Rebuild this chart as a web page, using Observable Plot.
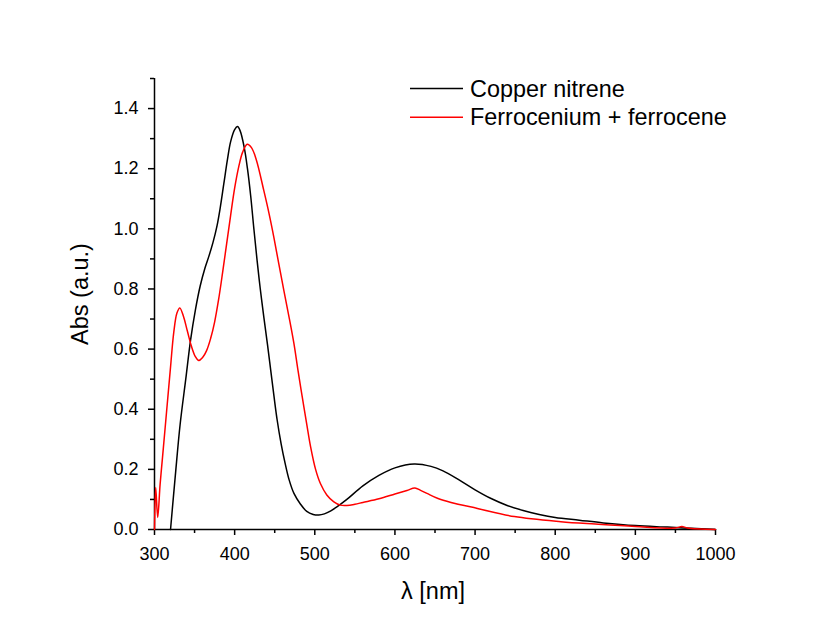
<!DOCTYPE html>
<html>
<head>
<meta charset="utf-8">
<script src="https://cdn.jsdelivr.net/npm/d3@7"></script>
<script src="https://cdn.jsdelivr.net/npm/@observablehq/plot@0.6"></script>
<style>
  html, body { margin: 0; padding: 0; background: #ffffff; }
  #chart { position: relative; width: 816px; height: 626px; }
  svg { font-family: Arial, "Liberation Sans", sans-serif; }
</style>
</head>
<body>
<div id="chart"></div>
<script>
// Copper nitrene (black)
const copperWl  = [320, 326, 332, 339, 345, 351, 357, 363, 368, 373, 378, 382, 386.5, 391, 395, 400, 403.6, 407, 412, 416, 420, 424, 428, 432, 436.5, 441, 445, 449, 453, 458, 463, 468, 474, 482, 490, 498, 505, 512, 520, 528, 540, 560, 580, 600, 624, 645, 660, 680, 700, 720, 740, 760, 780, 800, 830, 860, 900, 940, 970, 1000];
const copperAbs = [0.0, 0.18, 0.35, 0.5, 0.63, 0.73, 0.81, 0.87, 0.91, 0.955, 1.01, 1.07, 1.15, 1.23, 1.29, 1.33, 1.34, 1.325, 1.27, 1.2, 1.11, 1.0, 0.895, 0.8, 0.705, 0.615, 0.53, 0.445, 0.365, 0.285, 0.22, 0.165, 0.12, 0.085, 0.06, 0.05, 0.048, 0.052, 0.062, 0.076, 0.1, 0.145, 0.18, 0.205, 0.218, 0.21, 0.195, 0.165, 0.132, 0.103, 0.08, 0.063, 0.05, 0.04, 0.031, 0.022, 0.013, 0.008, 0.004, 0.0];

// Ferrocenium + ferrocene (red)
const ferroWl  = [300, 301.5, 304, 307, 310, 315, 320, 324, 328, 331.6, 336, 341, 346, 351, 355.3, 360, 365, 370, 375, 380, 385, 390, 395, 400, 405, 410, 415.7, 421, 427, 436.5, 443, 449, 455, 461.5, 468, 474, 479, 484.4, 490, 494.8, 501, 507, 515, 523.8, 532, 540, 550, 560, 580, 600, 615, 625, 632, 640, 653, 670, 703, 749, 807, 850, 900, 950, 958, 965, 1000];
const ferroAbs = [0.0, 0.14, 0.04, 0.15, 0.24, 0.39, 0.54, 0.655, 0.72, 0.737, 0.71, 0.66, 0.61, 0.575, 0.562, 0.572, 0.595, 0.635, 0.69, 0.765, 0.855, 0.95, 1.045, 1.135, 1.205, 1.255, 1.281, 1.27, 1.23, 1.126, 1.05, 0.971, 0.885, 0.794, 0.705, 0.618, 0.53, 0.44, 0.35, 0.275, 0.2, 0.153, 0.115, 0.092, 0.081, 0.08, 0.084, 0.09, 0.102, 0.118, 0.13, 0.138, 0.13, 0.12, 0.104, 0.09, 0.07, 0.043, 0.026, 0.018, 0.01, 0.005, 0.01, 0.005, 0.0];

const xMajor = [300, 400, 500, 600, 700, 800, 900, 1000];
const xMinor = [350, 450, 550, 650, 750, 850, 950];
const yMajor = [0, 0.2, 0.4, 0.6, 0.8, 1.0, 1.2, 1.4];
const yMinor = [0.1, 0.3, 0.5, 0.7, 0.9, 1.1, 1.3, 1.5];

const seriesNames = ["Copper nitrene", "Ferrocenium + ferrocene"];
const seriesColors = ["#000000", "#ff0000"];

const copper = copperWl.map((w, i) => ({wl: w, abs: copperAbs[i]}));
const ferro = ferroWl.map((w, i) => ({wl: w, abs: ferroAbs[i]}));

const plot = Plot.plot({
  width: 816,
  height: 626,
  marginLeft: 154,
  marginRight: 101,
  marginTop: 78,
  marginBottom: 97,
  style: {background: "#ffffff", fontFamily: "Arial, 'Liberation Sans', sans-serif"},
  x: {domain: [300, 1000]},
  y: {domain: [0, 1.5]},
  marks: [
    Plot.axisX({ticks: xMinor, tickSize: 4, text: null, strokeWidth: 1.5, label: null}),
    Plot.axisX({ticks: xMajor, tickSize: 6, tickPadding: 12, tickFormat: d3.format("d"), fontSize: 18, strokeWidth: 1.5, fill: "#000", label: null}),
    Plot.axisY({ticks: yMinor, tickSize: 4, text: null, strokeWidth: 1.5, label: null}),
    Plot.axisY({ticks: yMajor, tickSize: 6, tickPadding: 10, tickFormat: d3.format(".1f"), fontSize: 18, strokeWidth: 1.5, fill: "#000", label: null}),
    Plot.ruleX([300], {y1: 0, y2: 1.5, stroke: "#000", strokeWidth: 1.5}),
    Plot.ruleY([0], {x1: 300, x2: 1000, stroke: "#000", strokeWidth: 1.5}),
    Plot.line(copper, {x: "wl", y: "abs", stroke: seriesColors[0], strokeWidth: 1.5, curve: "catmull-rom"}),
    Plot.line(ferro, {x: "wl", y: "abs", stroke: seriesColors[1], strokeWidth: 1.5, curve: "catmull-rom"})
  ]
});

document.getElementById("chart").appendChild(plot);

// Axis titles and legend overlay
const svg = d3.select(plot);
svg.append("text")
  .attr("transform", "translate(88,294) rotate(-90)")
  .attr("text-anchor", "middle")
  .attr("font-size", 23.5)
  .attr("fill", "#000")
  .text("Abs (a.u.)");
svg.append("text")
  .attr("x", 433)
  .attr("y", 599)
  .attr("text-anchor", "middle")
  .attr("font-size", 23.5)
  .attr("fill", "#000")
  .text("λ [nm]");

const leg = svg.append("g");
seriesNames.forEach((name, i) => {
  const yy = 88.5 + i * 28.8;
  leg.append("line")
    .attr("x1", 410).attr("x2", 463)
    .attr("y1", yy).attr("y2", yy)
    .attr("stroke", seriesColors[i]).attr("stroke-width", 1.5);
  leg.append("text")
    .attr("x", 470).attr("y", yy)
    .attr("dy", "0.35em")
    .attr("text-anchor", "start")
    .attr("font-size", 23.4)
    .attr("fill", "#000")
    .text(name);
});
</script>
</body>
</html>
